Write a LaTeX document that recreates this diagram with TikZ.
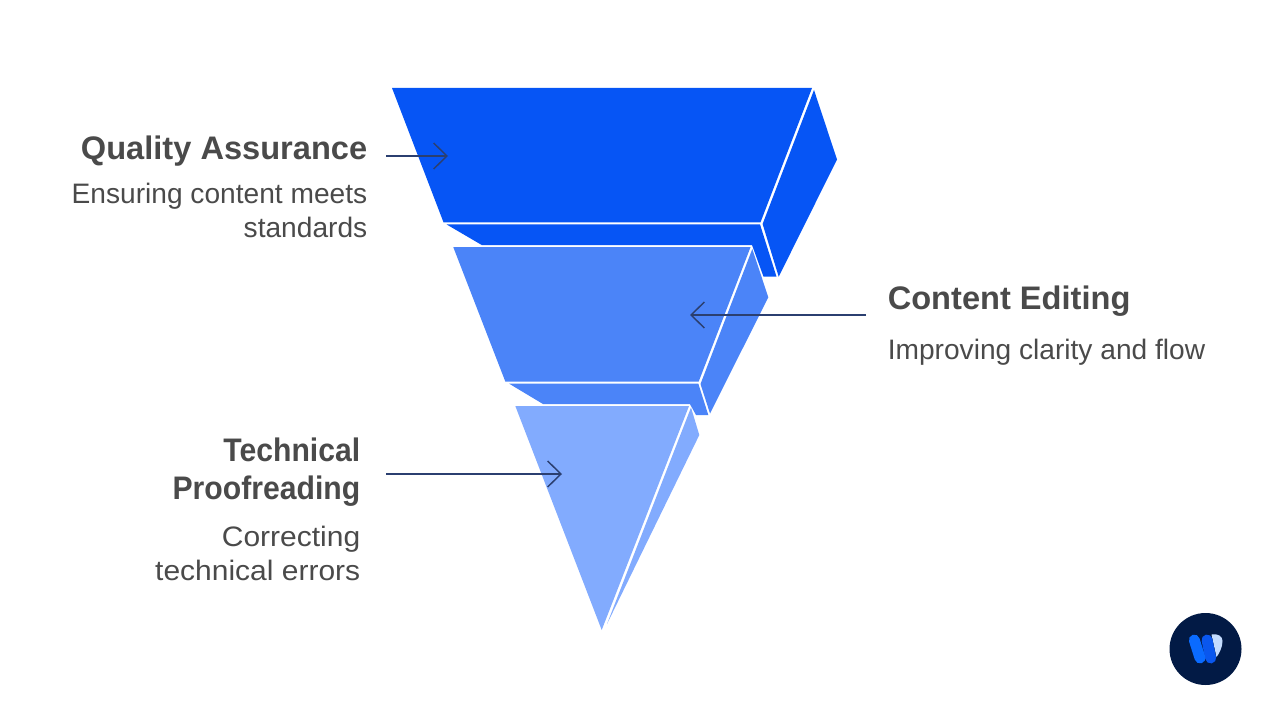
\documentclass[tikz,border=0pt]{standalone}
\usepackage{fontspec}
\setmainfont{Liberation Sans}
\usetikzlibrary{arrows.meta}
\definecolor{deepblue}{HTML}{0655F5}
\definecolor{midblue}{HTML}{4B84F8}
\definecolor{paleblue}{HTML}{82ABFE}
\definecolor{arrowink}{HTML}{2B3F70}
\definecolor{textgrey}{HTML}{4A4A4A}
\definecolor{logonavy}{HTML}{021A45}
\definecolor{logoleft}{HTML}{0A6BFF}
\definecolor{logomid}{HTML}{0A57EE}
\definecolor{logolight}{HTML}{C4DCFF}
\begin{document}
\begin{tikzpicture}[x=0.75pt,y=-0.75pt]
    \tikzstyle{title}=[anchor=base east, inner sep=0pt, text=textgrey, font=\fontsize{24.45}{28.5}\selectfont\bfseries]
    \tikzstyle{titleleft}=[title, anchor=base west]
    \tikzstyle{titlenarrow}=[title, font=\fontsize{24.45}{28.5}\selectfont\bfseries\addfontfeature{FakeStretch=0.925}]
    \tikzstyle{body}=[anchor=base east, inner sep=0pt, text=textgrey, font=\fontsize{21.1}{25.5}\selectfont]
    \tikzstyle{bodyleft}=[body, anchor=base west]
    \tikzstyle{bodywide}=[body, font=\fontsize{21.1}{25.5}\selectfont\addfontfeature{FakeStretch=1.066}]
    \tikzstyle{pointer}=[draw=arrowink, line width=1.1pt, -{Straight Barb[length=10pt, width=19.5pt, line width=1.1pt]}]

    \useasboundingbox (0,0) rectangle (1280,720);

    \fill [deepblue] (392,88) -- (812,88) -- (760.5,222.3) -- (443.5,222.3) -- cycle;
    \fill [deepblue] (814,90) -- (837,159.5) -- (778.7,276.7) -- (762.6,224) -- cycle;
    \fill [deepblue] (446.5,224.4) -- (481.7,245) -- (752,245) -- (763.5,276.7) -- (776.5,276.7) -- (760,224.4) -- cycle;

    \fill [midblue] (453.3,247.2) -- (750.5,247.2) -- (698.7,381.5) -- (505.3,381.5) -- cycle;
    \fill [midblue] (752.3,249) -- (768.3,297.3) -- (710,413.5) -- (700.5,384) -- cycle;
    \fill [midblue] (509,383.6) -- (543.3,404.2) -- (690,404.2) -- (696,415) -- (708.3,415) -- (698.3,383.6) -- cycle;

    \fill [paleblue] (515.3,406) -- (689,406) -- (601.7,630) -- cycle;
    \fill [paleblue] (691,407.5) -- (699.3,435) -- (607,624) -- cycle;

    \node [title] (qa) at (367.5,160) {Quality Assurance};
    \node [body] (qa text) at (367.5,204) {Ensuring content meets};
    \node [body] (qa text2) at (367.5,238) {standards};

    \node [titleleft] (ce) at (887.5,309) {Content Editing};
    \node [bodyleft] (ce text) at (887.5,359) {Improving clarity and flow};

    \node [titlenarrow] (tp) at (360.5,461) {Technical};
    \node [titlenarrow] (tp2) at (360.5,499) {Proofreading};
    \node [bodywide] (tp text) at (360.5,546) {Correcting};
    \node [bodywide] (tp text2) at (360.5,580) {technical errors};

    \coordinate (qa start) at (386,156);
    \coordinate (qa end) at (448,156);
    \coordinate (ce start) at (866,315);
    \coordinate (ce end) at (690,315);
    \coordinate (tp start) at (386,474);
    \coordinate (tp end) at (562,474);
    \draw [pointer] (qa start) -- (qa end);
    \draw [pointer] (ce start) -- (ce end);
    \draw [pointer] (tp start) -- (tp end);

    \fill [logonavy] (1205.5,649) circle [radius=36];
    \fill [logolight] (1211.5,634.5) .. controls (1218,633.5) and (1222.5,636) .. (1222.5,641) .. controls (1222.5,647) and (1219.5,653) .. (1216.5,657) -- cycle;
    \draw [logomid, line width=8.2pt, line cap=round] (1207,640) -- (1210.7,658);
    \draw [logoleft, line width=8.2pt, line cap=round] (1194.3,640) -- (1200,658);
\end{tikzpicture}
\end{document}
